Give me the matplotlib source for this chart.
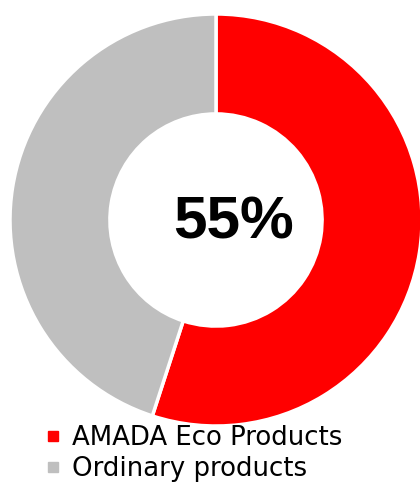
import matplotlib
matplotlib.use("Agg")
import matplotlib.pyplot as plt
from matplotlib.lines import Line2D

labels = ["AMADA Eco Products", "Ordinary products"]
values = [55, 45]
colors = ["#FF0000", "#BFBFBF"]
center_label = "55%"

W, H = 420, 483
fig = plt.figure(figsize=(W / 100, H / 100), dpi=100)
ax = fig.add_axes([0, 0, 1, 1])
R = 206.0
cx, cy = 216.0, 220.0
ax.pie(values, colors=colors, startangle=90, counterclock=False, radius=1.0,
       wedgeprops=dict(width=0.485, edgecolor="white", linewidth=2.5))
ax.set_xlim(-cx / R, (W - cx) / R)
ax.set_ylim(-(H - cy) / R, cy / R)
ax.set_aspect("equal")
ax.axis("off")

ax.text(18 / R, 3 / R, center_label, ha="center", va="center_baseline", fontsize=43.5,
        fontweight="bold", family=["Liberation Sans", "DejaVu Sans"], color="black")

handles = [Line2D([], [], marker="s", linestyle="none", markersize=7.5,
                  markerfacecolor=c, markeredgecolor=c) for c in colors]
fig.legend(handles, labels, loc="upper left", bbox_to_anchor=(45 / W, 1 - 425 / H),
           frameon=False, handlelength=0.6, handletextpad=0.45,
           labelspacing=0.2, borderpad=0, borderaxespad=0,
           prop=dict(family="DejaVu Sans", size=18.7))
fig.savefig("out.png", dpi=100)
